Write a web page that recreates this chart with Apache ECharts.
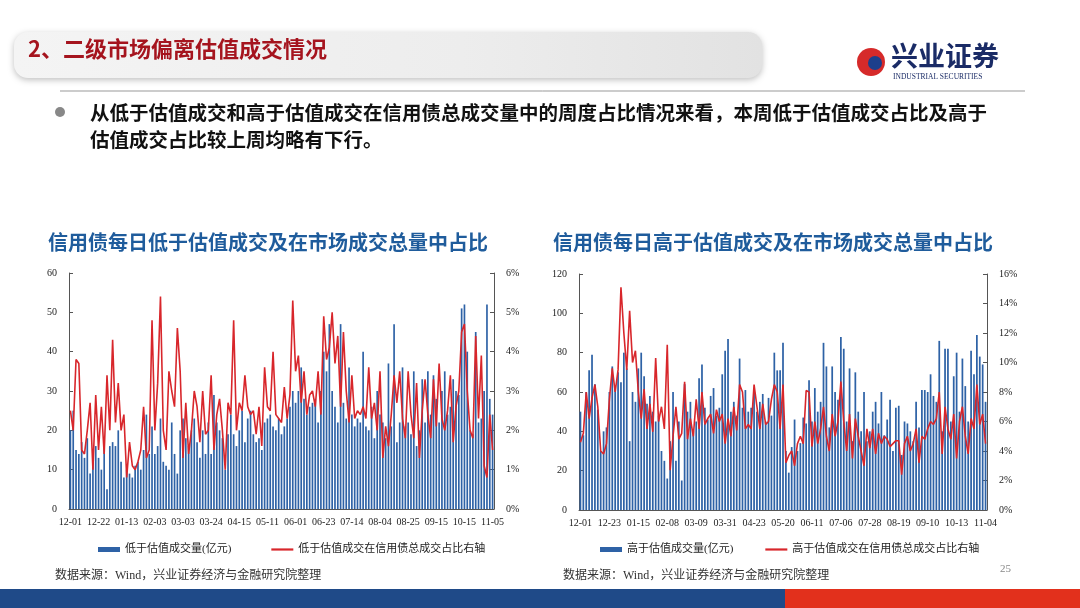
<!DOCTYPE html>
<html><head><meta charset="utf-8">
<script src="https://cdn.jsdelivr.net/npm/echarts@6/dist/echarts.min.js"></script>
<style>html,body{margin:0;padding:0;background:#fff}#c{width:1080px;height:608px}</style>
</head><body><div id="c"></div>
<script>
const leftTicks=['12-01','12-22','01-13','02-03','03-03','03-24','04-15','05-11','06-01','06-23','07-14','08-04','08-25','09-15','10-15','11-05'];
const rightTicks=['12-01','12-23','01-15','02-08','03-09','03-31','04-23','05-20','06-11','07-06','07-28','08-19','09-10','10-13','11-04'];
const leftBars=[20,25,15,14,17,13,18,9,14,16, 13,10,18,5,16,17,16,20,12,8, 10,9,8,11,12,10,15,24,14,21, 14,16,23,12,11,10,22,14,9,20, 23,18,16,20,23,17,13,20,14,22, 14,29,22,20,18,10,19,24,19,16, 20,25,17,23,25,19,17,18,15,22, 23,24,21,20,23,19,21,23,26,30, 27,30,36,28,24,26,27,28,22,30, 40,35,47,30,26,22,47,27,23,36, 24,21,23,22,40,21,20,26,18,30, 24,22,18,37,21,47,17,22,36,21, 22,19,35,16,20,33,22,35,24,34, 28,22,30,35,24,26,33,30,29,51, 52,40,20,19,45,22,23,30,52,28,24];
const leftLine=[2.5,2.0,3.8,3.7,1.5,1.4,2.0,2.7,1.0,2.9, 1.5,2.6,1.4,3.4,2.0,4.3,2.2,3.2,2.0,2.4, 0.8,1.7,1.1,1.0,1.2,1.5,2.6,1.3,1.5,4.8, 2.0,3.2,5.4,2.0,1.5,3.5,3.0,2.6,4.6,3.5, 1.3,2.7,1.4,2.0,3.0,2.6,1.7,3.0,1.9,2.0, 3.4,1.5,2.4,2.8,2.0,1.0,2.7,2.4,4.8,2.0, 2.7,2.5,3.4,2.6,2.4,2.5,1.9,2.6,1.6,3.6, 2.6,2.5,4.0,2.4,2.3,2.2,3.1,2.3,2.9,5.3, 3.5,3.9,2.7,3.5,2.4,2.9,3.0,2.6,3.5,2.4, 4.9,3.8,4.1,5.0,3.7,4.4,2.6,4.5,3.0,2.2, 3.4,2.3,2.5,2.4,2.6,2.3,3.6,2.3,2.7,2.0, 3.5,1.3,2.1,1.6,2.4,3.4,2.7,3.5,2.3,1.8, 3.5,2.4,1.8,3.2,1.3,2.5,3.3,2.4,1.8,3.3, 2.1,3.7,2.3,2.0,2.5,3.4,1.7,2.6,3.0,4.5, 4.7,3.0,2.0,1.8,4.4,2.3,3.9,1.1,0.8,2.4,1.5];
const rightBars=[50,38,60,71,79,64,51,30,40,42, 60,73,63,70,65,80,72,35,60,55, 72,80,68,54,58,50,45,48,30,25, 16,35,60,25,45,15,64,50,55,40, 45,67,74,52,46,58,62,48,52,69, 81,87,50,55,48,77,52,61,50,52, 62,50,55,59,45,57,48,80,71,71, 85,30,19,32,46,30,34,47,44,66, 45,62,50,55,85,73,42,73,60,56, 88,82,45,72,35,70,50,40,60,35, 40,50,55,44,60,38,46,56,30,52, 53,28,45,44,40,35,55,42,61,61, 60,69,58,55,86,40,82,82,45,68, 80,50,77,63,45,81,69,89,78,74,55];
const rightLine=[4.6,5.2,8.0,6.2,7.6,8.5,7.0,4.0,3.8,4.5, 7.5,9.6,8.0,9.5,15.1,12.0,9.5,13.5,10.0,10.8, 8.0,6.2,8.2,5.5,7.2,5.3,10.3,6.0,7.0,5.5, 11.2,2.7,5.0,7.0,4.8,5.2,8.7,4.8,6.2,5.0, 7.5,5.5,8.0,5.8,6.2,6.5,5.2,6.8,6.0,6.5, 4.5,6.2,5.0,7.0,5.4,8.5,8.0,5.5,5.8,5.5, 8.5,7.0,5.5,7.2,5.8,6.0,7.5,8.5,8.0,5.5, 8.5,3.2,3.7,4.0,3.0,4.5,5.0,4.5,8.1,8.0, 4.3,6.0,4.5,5.5,7.0,5.0,4.0,6.5,5.0,6.0, 8.7,6.0,4.0,6.5,3.5,6.2,5.0,4.0,3.0,5.5, 4.2,5.5,3.8,5.2,4.5,5.0,4.8,4.3,4.5,4.7, 4.7,2.4,4.5,5.0,4.0,4.5,5.5,3.2,5.0,4.8, 5.5,6.0,5.8,6.2,8.0,3.8,7.0,5.5,4.8,6.5, 3.5,6.0,7.0,5.0,3.8,6.2,5.5,8.5,5.8,6.5,4.5];

function cats(ticks,n){const a=[];for(let i=0;i<n;i++)a.push(i%10===0?ticks[i/10]:'d'+i);return a;}
const leftCats=cats(leftTicks,leftBars.length), rightCats=cats(rightTicks,rightBars.length);
const serif='"Liberation Serif","Noto Sans CJK SC"';
const lab={fontFamily:serif,fontSize:10,color:'#222'};
const axLine={show:true,lineStyle:{color:'#555'}};
function xAx(g,c){return {type:'category',gridIndex:g,data:c,boundaryGap:true,axisLine:axLine,axisTick:{show:false},
  axisLabel:Object.assign({},lab,{interval:0,margin:8,formatter:v=>v[0]==='d'?'':v}),splitLine:{show:false}};}
function yAx(g,max,iv,pct,right){return {type:'value',gridIndex:g,min:0,max:max,interval:iv,position:right?'right':'left',
  axisLine:axLine,axisTick:{show:true,inside:true,length:4,lineStyle:{color:'#555'}},splitLine:{show:false},
  axisLabel:Object.assign({},lab,{margin:12,formatter:pct?v=>v+'%':v=>v})};}
const blue='#2e62a6', red='#d8262b';
const lineIcon='path://M0,0H30V3H0Z';
const ch=echarts.init(document.getElementById('c'));
ch.setOption({
  animation:false,
  grid:[{left:69,top:273,width:425,height:236},{left:579,top:274,width:408,height:236}],
  xAxis:[xAx(0,leftCats),xAx(1,rightCats)],
  yAxis:[yAx(0,60,10,false,false),yAx(0,6,1,true,true),yAx(1,120,20,false,false),yAx(1,16,2,true,true)],
  legend:[
    {left:93,top:539,itemWidth:22,itemHeight:5,itemGap:40,textStyle:{fontFamily:serif,fontSize:11,color:'#222'},data:[{name:'低于估值成交量(亿元)',icon:'rect'},{name:'低于估值成交在信用债总成交占比右轴',icon:lineIcon}]},
    {left:595,top:539,itemWidth:22,itemHeight:5,itemGap:32,textStyle:{fontFamily:serif,fontSize:11,color:'#222'},data:[{name:'高于估值成交量(亿元)',icon:'rect'},{name:'高于估值成交在信用债总成交占比右轴',icon:lineIcon}]}],
  series:[
    {name:'低于估值成交量(亿元)',type:'bar',xAxisIndex:0,yAxisIndex:0,data:leftBars,barWidth:'60%',itemStyle:{color:blue}},
    {name:'低于估值成交在信用债总成交占比右轴',type:'line',xAxisIndex:0,yAxisIndex:1,data:leftLine,symbol:'none',lineStyle:{color:red,width:1.6},itemStyle:{color:red}},
    {name:'高于估值成交量(亿元)',type:'bar',xAxisIndex:1,yAxisIndex:2,data:rightBars,barWidth:'60%',itemStyle:{color:blue}},
    {name:'高于估值成交在信用债总成交占比右轴',type:'line',xAxisIndex:1,yAxisIndex:3,data:rightLine,symbol:'none',lineStyle:{color:red,width:1.6},itemStyle:{color:red}}
  ],
  graphic:[
    {type:'rect',shape:{x:14,y:32,width:748,height:46,r:14},style:{fill:new echarts.graphic.LinearGradient(0,0,1,0,[{offset:0,color:'#f4f4f4'},{offset:0.6,color:'#ededed'},{offset:1,color:'#e2e2e2'}]),shadowBlur:6,shadowColor:'rgba(0,0,0,0.25)',shadowOffsetY:2},z:-1},
    {type:'text',left:28,top:38,style:{text:'2、二级市场偏离估值成交情况',font:'bold 22px "Noto Sans CJK SC"',fill:'#a5141e'}},
    {type:'circle',shape:{cx:871,cy:62,r:14},style:{fill:'#d62a2a'}},
    {type:'circle',shape:{cx:875,cy:63,r:7},style:{fill:'#1d3f8c'}},
    {type:'text',left:891,top:42,style:{text:'兴业证券',font:'bold 27px "Noto Sans CJK SC"',fill:'#1a2b66'}},
    {type:'text',left:893,top:73,style:{text:'INDUSTRIAL SECURITIES',font:'7.5px "Liberation Serif"',fill:'#1a2b66'}},
    {type:'line',shape:{x1:60,y1:91,x2:1025,y2:91},style:{stroke:'#999',lineWidth:1}},
    {type:'circle',shape:{cx:60,cy:112,r:5},style:{fill:'#888'}},
    {type:'text',left:90,top:99,style:{text:'从低于估值成交和高于估值成交在信用债总成交量中的周度占比情况来看，本周低于估值成交占比及高于\n估值成交占比较上周均略有下行。',font:'bold 19.5px "Noto Sans CJK SC"',fill:'#111',lineHeight:27}},
    {type:'text',left:48,top:232,style:{text:'信用债每日低于估值成交及在市场成交总量中占比',font:'bold 20px "Noto Sans CJK SC"',fill:'#1f5c9c'}},
    {type:'text',left:553,top:232,style:{text:'信用债每日高于估值成交及在市场成交总量中占比',font:'bold 20px "Noto Sans CJK SC"',fill:'#1f5c9c'}},
    {type:'text',left:55,top:570,style:{text:'数据来源：Wind，兴业证券经济与金融研究院整理',font:'12px '+serif,fill:'#333'}},
    {type:'text',left:563,top:570,style:{text:'数据来源：Wind，兴业证券经济与金融研究院整理',font:'12px '+serif,fill:'#333'}},
    {type:'text',left:1000,top:564,style:{text:'25',font:'11px '+serif,fill:'#888'}},
    {type:'rect',shape:{x:0,y:589,width:785,height:19},style:{fill:'#1f4a88'}},
    {type:'rect',shape:{x:785,y:589,width:295,height:19},style:{fill:'#e2301c'}}
  ]
});
</script></body></html>
